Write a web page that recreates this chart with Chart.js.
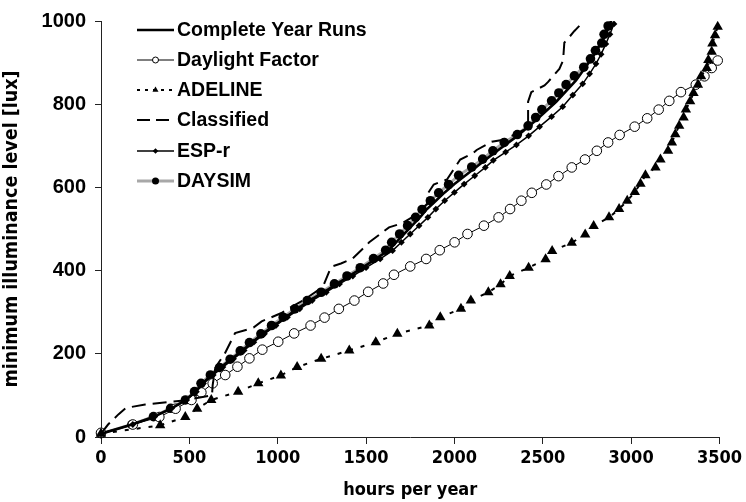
<!DOCTYPE html>
<html>
<head>
<meta charset="utf-8">
<script src="https://cdn.jsdelivr.net/npm/chart.js@4.4.1/dist/chart.umd.min.js"></script>
<style>
  html, body { margin: 0; padding: 0; background: #fff; }
  #wrap { width: 746px; height: 502px; }
</style>
</head>
<body>
<div id="wrap"><canvas id="c" width="746" height="502"></canvas></div>
<script>
// Axis ticks
const xTicks = [0, 500, 1000, 1500, 2000, 2500, 3000, 3500];
const yTicks = [0, 200, 400, 600, 800, 1000];

// Complete Year Runs
const hoursCYR = [0, 175, 300, 400, 480, 535, 575, 625, 680, 740, 800, 855, 915, 980, 1045, 1110, 1180, 1260, 1335, 1405, 1480, 1555, 1625, 1670, 1715, 1760, 1805, 1845, 1895, 1945, 2000, 2060, 2120, 2180, 2239, 2351, 2463, 2576, 2688, 2782, 2857, 2894];
const luxCYR   = [8, 30, 49, 69, 89, 109, 129, 149, 168, 188, 208, 228, 248, 268, 288, 308, 328, 348, 368, 387, 407, 428, 448, 468, 488, 508, 528, 548, 568, 588, 608, 628, 648, 668, 687, 722, 762, 806, 857, 913, 968, 1008];

// Daylight Factor
const hoursDF = [0, 180, 330, 422, 512, 568, 632, 703, 772, 840, 913, 1003, 1093, 1186, 1265, 1346, 1434, 1512, 1597, 1658, 1750, 1840, 1917, 2001, 2074, 2167, 2250, 2315, 2379, 2438, 2520, 2589, 2664, 2739, 2806, 2870, 2935, 3020, 3091, 3156, 3216, 3282, 3366, 3415, 3456, 3490];
const luxDF   = [10, 30, 48, 68, 89, 107, 129, 149, 169, 189, 210, 229, 249, 268, 287, 308, 328, 349, 369, 390, 410, 428, 449, 468, 488, 508, 528, 548, 568, 587, 607, 627, 648, 667, 688, 708, 726, 746, 766, 787, 808, 829, 847, 867, 887, 905];

// ADELINE
const hoursADE = [0, 335, 477, 544, 624, 776, 890, 1018, 1110, 1246, 1405, 1555, 1677, 1858, 1920, 2037, 2093, 2192, 2261, 2313, 2420, 2516, 2553, 2664, 2740, 2788, 2875, 2932, 2978, 3021, 3053, 3081, 3138, 3166, 3209, 3231, 3250, 3272, 3297, 3310, 3334, 3353, 3378, 3396, 3428, 3437, 3456, 3460, 3475, 3490];
const luxADE   = [8, 28, 48, 68, 89, 109, 129, 148, 168, 188, 208, 228, 248, 268, 288, 308, 328, 348, 367, 387, 407, 427, 447, 467, 487, 507, 528, 548, 568, 589, 609, 629, 648, 667, 688, 708, 728, 748, 768, 787, 807, 827, 847, 867, 887, 906, 926, 946, 966, 986];

// Classified
const hoursCLS = [0, 40, 100, 142, 250, 469, 628, 632, 647, 700, 759, 825, 863, 909, 1021, 1059, 1150, 1256, 1302, 1358, 1424, 1480, 1518, 1630, 1705, 1760, 1846, 1846, 1883, 1958, 2033, 2108, 2126, 2211, 2270, 2295, 2400, 2417, 2417, 2435, 2510, 2529, 2594, 2615, 2622, 2632, 2679, 2688, 2733];
const luxCLS   = [8, 30, 55, 70, 78, 88, 100, 125, 167, 200, 250, 258, 263, 278, 298, 308, 330, 361, 409, 417, 429, 452, 468, 504, 514, 528, 560, 583, 607, 619, 667, 683, 690, 710, 714, 718, 740, 754, 806, 829, 845, 853, 885, 905, 948, 952, 976, 980, 1000];

// ESP-r
const hoursESP = [0, 180, 305, 400, 485, 540, 580, 635, 690, 750, 810, 865, 925, 990, 1055, 1125, 1195, 1275, 1350, 1425, 1500, 1580, 1650, 1700, 1750, 1800, 1850, 1895, 1945, 2000, 2055, 2115, 2175, 2220, 2290, 2351, 2420, 2482, 2550, 2613, 2670, 2726, 2765, 2801, 2830, 2857, 2880, 2903];
const luxESP   = [8, 30, 49, 69, 89, 109, 129, 149, 168, 188, 208, 228, 248, 268, 288, 308, 328, 348, 368, 387, 407, 428, 448, 468, 488, 508, 528, 548, 568, 588, 608, 628, 648, 665, 685, 702, 724, 746, 770, 794, 822, 849, 873, 897, 920, 945, 968, 993];

// DAYSIM
const hoursDAY = [0, 175, 297, 394, 478, 529, 566, 619, 671, 731, 788, 840, 905, 965, 1031, 1097, 1167, 1246, 1321, 1392, 1467, 1542, 1611, 1645, 1690, 1735, 1780, 1817, 1864, 1911, 1967, 2024, 2098, 2160, 2218, 2282, 2356, 2417, 2460, 2495, 2550, 2591, 2632, 2679, 2732, 2770, 2798, 2834, 2847, 2870];
const luxDAY   = [8, 30, 49, 69, 89, 109, 129, 149, 167, 187, 207, 227, 248, 268, 288, 308, 328, 348, 368, 387, 407, 429, 449, 468, 488, 508, 528, 547, 568, 587, 607, 629, 649, 668, 688, 708, 727, 748, 768, 787, 808, 827, 847, 868, 889, 909, 929, 947, 968, 988];

const pts = (xs, ys) => xs.map((x, i) => ({ x: x, y: ys[i] }));

const PLOT_LEFT = 101;
const PLOT_BOTTOM_GAP = 65;

const datasets = [
  {
    label: 'DAYSIM', data: pts(hoursDAY, luxDAY),
    borderColor: '#a8a8a8', borderWidth: 3,
    pointStyle: 'circle', pointRadius: 4.8, pointBackgroundColor: '#000', pointBorderColor: '#000', pointBorderWidth: 0,
    legendRadius: 3.5, order: 6
  },
  {
    label: 'Daylight Factor', data: pts(hoursDF, luxDF),
    borderColor: '#000', borderWidth: 1,
    pointStyle: 'circle', pointRadius: 4.8, pointBackgroundColor: '#fff', pointBorderColor: '#000', pointBorderWidth: 1,
    legendRadius: 3, order: 5
  },
  {
    label: 'ADELINE', data: pts(hoursADE, luxADE),
    borderColor: '#000', borderWidth: 2, borderDash: [4, 8],
    pointStyle: 'triangle', pointRadius: 6, pointBackgroundColor: '#000', pointBorderColor: '#000', pointBorderWidth: 0,
    legendRadius: 3.5, order: 4
  },
  {
    label: 'Classified', data: pts(hoursCLS, luxCLS),
    borderColor: '#000', borderWidth: 2, borderDash: [14, 7],
    pointRadius: 0, legendRadius: 0, order: 3
  },
  {
    label: 'ESP-r', data: pts(hoursESP, luxESP),
    borderColor: '#000', borderWidth: 1.5,
    pointStyle: 'rectRot', pointRadius: 3.4, pointBackgroundColor: '#000', pointBorderColor: '#000', pointBorderWidth: 0,
    legendRadius: 2.8, order: 2
  },
  {
    label: 'Complete Year Runs', data: pts(hoursCYR, luxCYR),
    borderColor: '#000', borderWidth: 2.6,
    pointRadius: 0, legendRadius: 0, order: 1
  }
];
datasets.forEach(d => {
  d.showLine = true;
  d.fill = false;
  d.tension = 0;
  d.pointHoverRadius = d.pointRadius;
  d.clip = { left: 8, right: 8, top: 0, bottom: 8 };
});

// In-plot legend, rows in the order the series are listed
const legendOrder = ['Complete Year Runs', 'Daylight Factor', 'ADELINE', 'Classified', 'ESP-r', 'DAYSIM'];
const legendPlugin = {
  id: 'inPlotLegend',
  afterDraw(chart) {
    const ctx = chart.ctx;
    const x0 = 137, x1 = 174, tx = 177;
    const rows = [30, 60, 90, 120, 151, 181];
    legendOrder.forEach((name, i) => {
      const ds = chart.data.datasets.find(d => d.label === name);
      const y = rows[i];
      ctx.save();
      ctx.strokeStyle = ds.borderColor;
      ctx.lineWidth = ds.borderWidth;
      ctx.setLineDash(name === 'ADELINE' ? [3, 5] : name === 'Classified' ? [13, 6] : []);
      ctx.beginPath();
      ctx.moveTo(x0, y);
      ctx.lineTo(x1, y);
      ctx.stroke();
      ctx.setLineDash([]);
      if (ds.legendRadius > 0) {
        ctx.fillStyle = ds.pointBackgroundColor;
        ctx.strokeStyle = ds.pointBorderColor;
        ctx.lineWidth = ds.pointBorderWidth || 0.01;
        Chart.helpers.drawPoint(ctx, {
          pointStyle: ds.pointStyle, radius: ds.legendRadius,
          borderWidth: ds.pointBorderWidth, rotation: 0
        }, (x0 + x1) / 2, y);
      }
      ctx.fillStyle = '#000';
      ctx.font = 'bold 19.5px "Liberation Sans", Arial, sans-serif';
      ctx.textBaseline = 'middle';
      ctx.textAlign = 'left';
      ctx.fillText(name, tx, y + 1);
      ctx.restore();
    });
  }
};

const plainNumber = v => String(v);

new Chart(document.getElementById('c'), {
  type: 'scatter',
  data: { datasets: datasets },
  plugins: [legendPlugin],
  options: {
    responsive: false,
    animation: false,
    events: [],
    layout: { padding: { left: 0, right: 21, top: 17, bottom: 0 } },
    plugins: { legend: { display: false }, tooltip: { enabled: false } },
    scales: {
      x: {
        type: 'linear', min: 0, max: 3500,
        afterBuildTicks: s => { s.ticks = xTicks.map(v => ({ value: v })); },
        afterFit: s => { s.height = PLOT_BOTTOM_GAP; },
        grid: { display: true, drawOnChartArea: false, drawTicks: true, tickLength: 7, color: '#222', lineWidth: 1 },
        border: { display: true, color: '#222', width: 1 },
        ticks: {
          padding: 4, color: '#000', maxRotation: 0, callback: plainNumber,
          font: { family: '"DejaVu Sans Condensed", "DejaVu Sans", sans-serif', weight: 'bold', size: 18 }
        },
        title: {
          display: true, text: 'hours per year', color: '#000', padding: { top: 0, bottom: 1 },
          font: { family: '"DejaVu Sans Condensed", "DejaVu Sans", sans-serif', weight: 'bold', size: 18 }
        }
      },
      y: {
        type: 'linear', min: 0, max: 1000,
        afterBuildTicks: s => { s.ticks = yTicks.map(v => ({ value: v })); },
        afterFit: s => { s.width = PLOT_LEFT; },
        grid: { display: true, drawOnChartArea: false, drawTicks: true, tickLength: 6, color: '#222', lineWidth: 1 },
        border: { display: true, color: '#222', width: 1 },
        ticks: {
          padding: 9, color: '#000', callback: plainNumber,
          font: { family: '"Liberation Sans", Arial, sans-serif', weight: 'bold', size: 20 }
        },
        title: {
          display: true, text: 'minimum illuminance level [lux]', color: '#000', padding: { top: 0, bottom: 0 },
          font: { family: '"DejaVu Sans Condensed", "DejaVu Sans", sans-serif', weight: 'bold', size: 19.5 }
        }
      }
    }
  }
});
</script>
</body>
</html>
